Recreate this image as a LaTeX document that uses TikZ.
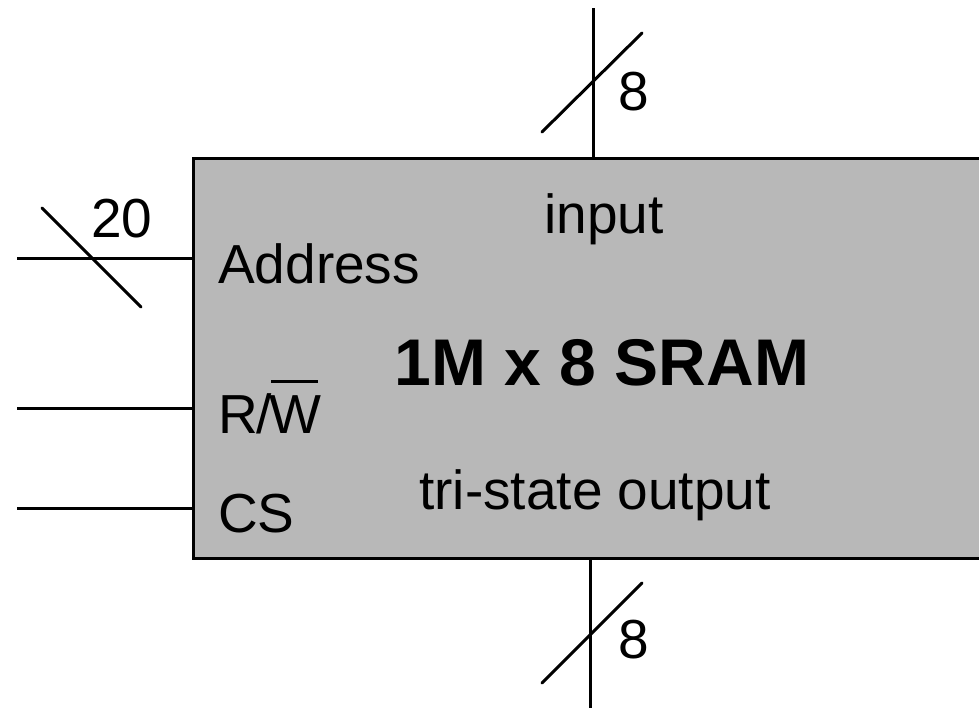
\documentclass[tikz,border=0pt]{standalone}
\usepackage{fontspec}
\setmainfont{Liberation Sans}
\definecolor{boxgray}{HTML}{B8B8B8}
\tikzset{
  wire/.style={line width=3pt, line cap=butt},
  busmark/.style={line width=3pt, line cap=round},
  lbl/.style={inner sep=0pt, anchor=base west, font=\fontsize{55}{60}\selectfont},
  ctr/.style={inner sep=0pt, anchor=base, font=\fontsize{55}{60}\selectfont},
  titlelbl/.style={inner sep=0pt, anchor=base, font=\fontsize{66}{72}\selectfont\bfseries},
  chip/.style={draw, line width=3.2pt, fill=boxgray, rectangle, inner sep=0pt, anchor=north west}
}
\begin{document}
\begin{tikzpicture}[x=1pt, y=-1pt]
\useasboundingbox (0,0) rectangle (979,707);
\node[chip, minimum width=800pt, minimum height=400pt] (sram) at (192,157) {};

% pin coordinates
\coordinate (aIn) at (17,258);
\coordinate (rwIn) at (17,408);
\coordinate (csIn) at (17,508);
\coordinate (dIn) at (593,8);
\coordinate (dOut) at (590,712);
\coordinate (aS1) at (42,208);
\coordinate (aS2) at (141,307);
\coordinate (tS1) at (542,132);
\coordinate (tS2) at (642,33);
\coordinate (bS1) at (542,683);
\coordinate (bS2) at (642,583);

\draw[wire] (aIn) -- (aIn -| sram.west);
\draw[wire] (rwIn) -- (rwIn -| sram.west);
\draw[wire] (csIn) -- (csIn -| sram.west);
\draw[wire] (dIn) -- (dIn |- sram.north);
\draw[wire] (sram.south -| dOut) -- (dOut);

\draw[busmark] (aS1) -- (aS2);
\draw[busmark] (tS1) -- (tS2);
\draw[busmark] (bS1) -- (bS2);

\node[ctr] (n20) at (122,237) {20};
\node[ctr] (n8t) at (634,110) {8};
\node[ctr] (n8b) at (634,658) {8};

\node[lbl] (addr) at (218,283) {Address};
\node[lbl] (rw) at (218,433) {R\kern-0.02em/\kern-0.04em\rlap{\hspace{0.02em}\rule[50pt]{0.86em}{3pt}}W};
\node[lbl] (cs) at (218,532) {CS};
\node[ctr] (inp) at (604,233) {input};
\node[titlelbl] (title) at (602,385) {1M x 8 SRAM};
\node[ctr] (outp) at (595,509) {tri-state output};
\end{tikzpicture}
\end{document}
